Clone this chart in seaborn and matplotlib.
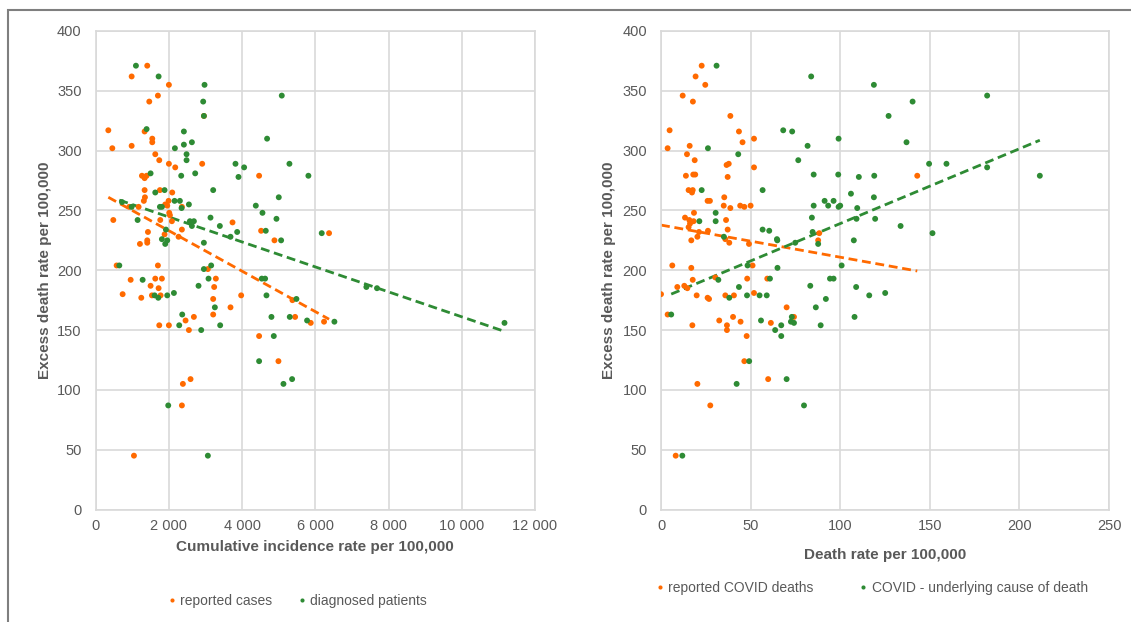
import numpy as np
import pandas as pd
import matplotlib
matplotlib.use("Agg")
import matplotlib.pyplot as plt
from matplotlib.patches import Rectangle
from matplotlib.ticker import FuncFormatter
import seaborn as sns

# left panel: cumulative incidence rate vs excess death rate
cases_x = [1413, 987, 2004, 1704, 1468, 2960, 350, 1341, 1550, 1550, 459, 987, 1632, 1741, 2004,
           2177, 2913, 4467, 1268, 1395, 1341, 1341, 1759, 2095, 1350, 1320, 1995, 1904, 1959, 2359,
           1177, 923, 2013, 2032, 486, 1768, 2086, 3741, 4522, 2359, 1432, 1886, 4886, 2268, 1413,
           1413, 1213, 577, 1704, 3068, 960, 1632, 1813, 3286, 1504, 1723, 3240, 741, 1250, 1541,
           1777, 3213, 3977, 5377, 3686, 2686, 2459, 3213, 1741, 2004, 2550, 5450, 4467, 4995, 2386,
           2595, 2359, 1050, 5877, 6240, 6377]
cases_y = [371, 362, 355, 346, 341, 329, 317, 316, 310, 307, 302, 304, 297, 292, 289,
           286, 289, 279, 279, 279, 277, 267, 267, 265, 261, 258, 258, 255, 254, 253,
           253, 253, 248, 246, 242, 242, 241, 240, 233, 234, 232, 230, 225, 228, 225,
           223, 222, 204, 204, 201, 192, 193, 193, 193, 187, 185, 186, 180, 177, 179,
           179, 176, 179, 175, 169, 161, 158, 163, 154, 154, 150, 161, 145, 124, 105,
           109, 87, 45, 156, 157, 231]

diag_x = [1104, 1723, 2977, 5086, 2940, 2960, 1395, 2413, 4685, 2632, 2413, 2168, 2486, 2486, 3822,
          4058, 5295, 3904, 5813, 1504, 2340, 2722, 3213, 1886, 1632, 2159, 2304, 5004, 1759, 1813,
          2350, 2550, 987, 723, 4377, 1150, 1923, 2577, 2686, 2632, 3140, 3395, 4559, 4941, 4649,
          3868, 5068, 3686, 1813, 1959, 1904, 2959, 650, 2959, 3158, 1287, 3086, 2813, 1614, 1714,
          1959, 2141, 4668, 4540, 4631, 5486, 3259, 2368, 2286, 2886, 3404, 4804, 5304, 5777, 4868,
          4467, 5132, 5368, 1986, 3068, 7396, 7686, 6523, 11167, 6177]
diag_y = [371, 362, 355, 346, 341, 329, 318, 316, 310, 307, 305, 302, 297, 292, 289,
          286, 289, 278, 279, 281, 279, 281, 267, 267, 265, 258, 258, 261, 253, 253,
          252, 255, 253, 257, 254, 242, 234, 241, 241, 237, 244, 237, 248, 243, 233,
          232, 225, 228, 226, 225, 222, 223, 204, 201, 204, 192, 193, 187, 179, 177,
          179, 181, 179, 193, 193, 176, 169, 163, 154, 150, 154, 161, 161, 158, 145,
          124, 105, 109, 87, 45, 186, 185, 157, 156, 231]

# right panel: death rate vs excess death rate
deaths_x = [22.7, 19.3, 24.7, 12.1, 17.8, 38.7, 4.8, 43.5, 45.5, 51.9, 3.7, 16.0, 14.5, 18.8, 37.8,
            36.6, 51.9, 13.9, 18.0, 19.1, 37.2, 15.4, 17.7, 17.3, 26.0, 27.3, 35.3, 35.0, 38.7, 44.2,
            46.5, 50.0, 13.4, 15.8, 18.2, 16.2, 15.4, 18.4, 36.3, 37.2, 21.2, 26.2, 20.3, 16.9, 35.9,
            38.1, 49.1, 88.3, 87.7, 6.3, 16.9, 51.1, 9.1, 13.0, 14.7, 17.7, 30.3, 48.1, 59.3, 0.0,
            19.9, 26.0, 26.8, 35.9, 40.7, 51.9, 70.1, 3.7, 17.5, 32.5, 36.8, 36.8, 40.2, 44.4, 61.3,
            74.2, 47.8, 46.5, 59.8, 20.3, 27.5, 8.2, 143.0]
deaths_y = [371, 362, 355, 346, 341, 329, 317, 316, 307, 310, 302, 304, 297, 292, 289,
            288, 286, 279, 280, 280, 278, 267, 267, 265, 258, 258, 261, 254, 252, 254,
            253, 254, 244, 242, 241, 239, 236, 248, 242, 234, 232, 233, 228, 225, 226,
            223, 222, 231, 225, 204, 202, 204, 186, 187, 185, 192, 194, 193, 193, 180,
            179, 177, 176, 179, 179, 181, 169, 163, 154, 158, 154, 150, 161, 157, 156,
            161, 145, 124, 109, 105, 87, 45, 279]

cause_x = [31.0, 83.8, 118.8, 68.2, 73.2, 99.1, 81.8, 26.2, 43.1, 76.6, 85.2, 98.9, 110.4, 119.0, 22.7,
           56.7, 85.2, 91.3, 93.3, 96.3, 99.1, 100.0, 106.0, 118.8, 109.5, 21.4, 30.5, 30.5, 35.1, 56.7,
           60.4, 64.7, 64.9, 84.2, 84.6, 74.9, 87.7, 107.6, 109.1, 119.5, 48.3, 65.0, 100.8, 32.0, 43.5,
           60.8, 83.3, 94.3, 96.3, 108.9, 116.2, 38.1, 48.0, 55.0, 59.0, 86.4, 92.0, 5.7, 55.8, 63.7,
           67.1, 67.1, 72.5, 73.0, 74.2, 89.1, 108.0, 49.2, 70.1, 42.2, 79.8, 11.9, 140.4, 182.0, 127.0,
           137.0, 149.6, 159.3, 182.0, 211.4, 133.7, 151.5, 125.1]
cause_y = [371, 362, 355, 317, 316, 310, 304, 302, 297, 292, 280, 280, 278, 279, 267,
           267, 254, 258, 254, 258, 253, 254, 264, 261, 252, 241, 248, 241, 228, 234,
           233, 226, 225, 244, 232, 223, 222, 225, 243, 243, 204, 202, 204, 192, 186,
           193, 187, 193, 193, 186, 179, 177, 179, 179, 179, 169, 176, 163, 158, 150,
           154, 145, 157, 161, 156, 154, 161, 124, 109, 105, 87, 45, 341, 346, 329,
           307, 289, 289, 286, 279, 237, 231, 181]

left_ticks = [0, 2000, 4000, 6000, 8000, 10000, 12000]
right_ticks = [0, 50, 100, 150, 200, 250]
y_ticks = [0, 50, 100, 150, 200, 250, 300, 350, 400]

orange = "#FF6A00"
green = "#2E8B34"
grey_txt = "#595959"
grid_c = "#D9D9D9"

sns.set_style("white")
plt.rcParams['font.family'] = ['Liberation Sans Narrow', 'Liberation Sans', 'DejaVu Sans']

fig = plt.figure(figsize=(11.31, 6.22), dpi=100)
# frame around the picture
fig.patches.append(Rectangle((8 / 1131, -0.1), 1.2, 1 - 10 / 622 + 0.1, transform=fig.transFigure,
                             fill=False, edgecolor="#7F7F7F", lw=1.5))

ax1 = fig.add_axes([95.5 / 1131, 1 - 509.5 / 622, 439.5 / 1131, 478.5 / 622])
ax2 = fig.add_axes([661 / 1131, 1 - 509.5 / 622, 448 / 1131, 478.5 / 622])

left = pd.DataFrame({"x": cases_x + diag_x, "y": cases_y + diag_y,
                     "s": ["reported cases"] * len(cases_x) + ["diagnosed patients"] * len(diag_x)})
right = pd.DataFrame({"x": deaths_x + cause_x, "y": deaths_y + cause_y,
                      "s": ["reported COVID deaths"] * len(deaths_x) + ["COVID - underlying cause of death"] * len(cause_x)})

line_kw = dict(ls=(0, (3.2, 1.7)), lw=2.0)
for ax, df, names, xticks, fmt in [
        (ax1, left, ["reported cases", "diagnosed patients"], left_ticks,
         lambda v, p: "0" if v == 0 else f"{int(v):,}".replace(",", " ")),
        (ax2, right, ["reported COVID deaths", "COVID - underlying cause of death"], right_ticks,
         lambda v, p: f"{int(v)}")]:
    sns.scatterplot(data=df, x="x", y="y", hue="s", hue_order=names, palette=[orange, green],
                    s=18, linewidth=0, ax=ax, zorder=3)
    for name, col in zip(names, [orange, green]):
        sub = df[df["s"] == name]
        sns.regplot(data=sub, x="x", y="y", scatter=False, ci=None, color=col,
                    line_kws=line_kw, ax=ax)
    ax.set_xlim(xticks[0], xticks[-1])
    ax.set_ylim(0, 400)
    ax.set_xticks(xticks)
    ax.set_yticks(y_ticks)
    ax.xaxis.set_major_formatter(FuncFormatter(fmt))
    ax.grid(True, color=grid_c, lw=1.2)
    ax.set_axisbelow(True)
    for sp in ax.spines.values():
        sp.set_color(grid_c)
        sp.set_linewidth(1.2)
    ax.tick_params(axis="both", length=0, labelsize=10.5, labelcolor=grey_txt)
    ax.tick_params(axis="x", pad=7)
    ax.tick_params(axis="y", pad=10)
    ax.set_ylabel("Excess death rate per 100,000", fontsize=11, fontweight="bold", color=grey_txt)
    ax.yaxis.set_label_coords(-0.1, 0.5)

ax1.set_xlabel("Cumulative incidence rate per 100,000", fontsize=11, fontweight="bold", color=grey_txt)
ax1.xaxis.set_label_coords(0.5, -0.064)
ax2.set_xlabel("Death rate per 100,000", fontsize=11, fontweight="bold", color=grey_txt)
ax2.xaxis.set_label_coords(0.5, -0.081)

for ax, loc, gap in [(ax1, (0.456, -0.191), 1.6), (ax2, (0.467, -0.164), 3.1)]:
    h, l = ax.get_legend_handles_labels()
    ax.legend(h[:2], l[:2], loc="center", bbox_to_anchor=loc, ncol=2, frameon=False,
              fontsize=10, labelcolor=grey_txt, markerscale=0.7, handletextpad=0.1,
              columnspacing=gap, handlelength=1.0)

fig.savefig("out.png", dpi=100)
